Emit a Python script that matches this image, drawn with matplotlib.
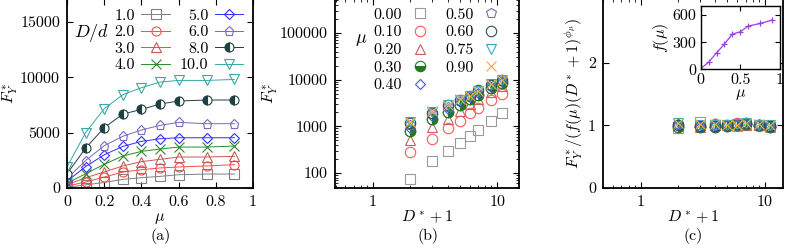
import numpy as np
import matplotlib
matplotlib.use("Agg")
import matplotlib.pyplot as plt
from matplotlib.ticker import NullFormatter

plt.rcParams['font.family'] = 'serif'
plt.rcParams['font.serif'] = ['cmr10', 'DejaVu Serif']
plt.rcParams['mathtext.fontset'] = 'cm'
plt.rcParams['axes.formatter.use_mathtext'] = True
plt.rcParams['font.size'] = 11.5

# friction coefficient values
MU = [0.0, 0.1, 0.2, 0.3, 0.4, 0.5, 0.6, 0.75, 0.9]
MU_LABELS = ['0.00', '0.10', '0.20', '0.30', '0.40', '0.50', '0.60', '0.75', '0.90']
# D/d values
DD = [1.0, 2.0, 3.0, 4.0, 5.0, 6.0, 8.0, 10.0]
DD_LABELS = ['1.0', '2.0', '3.0', '4.0', '5.0', '6.0', '8.0', '10.0']

# F*_Y for each D/d, over MU
F_D1 = [73, 282, 500, 780, 930, 1050, 1200, 1260, 1260]
F_D2 = [184, 535, 990, 1440, 1650, 1810, 1900, 1990, 2110]
F_D3 = [300, 920, 1450, 1990, 2380, 2590, 2800, 2800, 2860]
F_D4 = [440, 1280, 2140, 2890, 3310, 3520, 3700, 3700, 3790]
F_D5 = [610, 1930, 3000, 3760, 4210, 4450, 4540, 4540, 4540]
F_D6 = [850, 2480, 3820, 4670, 5240, 5660, 5930, 5810, 5810]
F_D8 = [1280, 3600, 5450, 6680, 7100, 7590, 7860, 7950, 7950]
F_D10 = [1900, 5000, 7160, 8430, 9060, 9570, 9720, 9720, 9810]
F_ALL = [F_D1, F_D2, F_D3, F_D4, F_D5, F_D6, F_D8, F_D10]

# prefactor f(mu) (inset)
F_MU = [8, 80, 182, 280, 389, 414, 477, 505, 542]

# collapsed values F*_Y/(f(mu)(D*+1)^phi) over D*+1, for each mu
C_MU000 = [0.96, 1.06, 1.00, 1.00, 0.99, 1.02, 1.00, 0.98]
C_MU010 = [1.01, 0.99, 1.02, 0.99, 1.03, 1.03, 0.99, 0.99]
C_MU020 = [1.02, 0.98, 1.03, 1.00, 1.02, 1.01, 1.01, 1.00]
C_MU030 = [0.98, 0.97, 0.98, 0.99, 1.01, 1.02, 1.00, 0.98]
C_MU040 = [1.00, 0.98, 0.99, 1.00, 1.00, 1.02, 1.01, 0.99]
C_MU050 = [1.02, 1.00, 1.00, 1.01, 1.01, 1.03, 1.00, 1.00]
C_MU060 = [1.00, 0.99, 0.99, 1.00, 1.02, 1.04, 1.00, 0.99]
C_MU075 = [1.03, 1.01, 1.01, 1.01, 1.02, 1.03, 1.01, 1.00]
C_MU090 = [1.04, 1.02, 1.02, 1.01, 1.01, 1.03, 1.02, 1.00]
C_ALL = [C_MU000, C_MU010, C_MU020, C_MU030, C_MU040, C_MU050, C_MU060, C_MU075, C_MU090]

XP = [d + 1 for d in DD]

# styles, panel (a)
A_STYLE = [
    dict(color='#808080', marker='s', mfc='none'),
    dict(color='#ff4a4a', marker='o', mfc='none'),
    dict(color='#c85858', marker='^', mfc='none'),
    dict(color='#2a8a2a', marker='x'),
    dict(color='#3030ff', marker='D', mfc='none', ms=5.5),
    dict(color='#7868c0', marker='p', mfc='none'),
    dict(color='#1e4040', marker='o', fillstyle='left', mfc='#1e4040', mfcalt='white'),
    dict(color='#38a8a8', marker='v', mfc='none'),
]
# styles, panels (b) and (c)
B_STYLE = [
    dict(color='#9a9a9a', marker='s', mfc='none'),
    dict(color='#ff5a5a', marker='o', mfc='none'),
    dict(color='#c86060', marker='^', mfc='none'),
    dict(color='#207a20', marker='o', fillstyle='bottom', mfc='#207a20', mfcalt='white'),
    dict(color='#5050ff', marker='D', mfc='none', ms=5.5),
    dict(color='#7868c0', marker='p', mfc='none'),
    dict(color='#2f4f4f', marker='o', mfc='none'),
    dict(color='#38a8b8', marker='v', mfc='none'),
    dict(color='#f0b030', marker='x'),
]

fig = plt.figure(figsize=(7.89, 2.49), dpi=100)

def frame(ax, size=11.5):
    for s in ax.spines.values():
        s.set_linewidth(1.3)
    ax.tick_params(which='both', direction='in', top=True, right=True, labelsize=size)
    ax.tick_params(which='major', length=4.5, pad=5)
    ax.tick_params(which='minor', length=2.5)

def plot_b(ax, x, y, st, **kw):
    st = dict(st)
    ms = st.pop('ms', 7.5)
    ax.plot(x, y, ls='none', ms=ms, mew=0.8, **st, **kw)
    if st.get('fillstyle') == 'bottom':
        # three-quarter filled circle: add the right half too
        st['fillstyle'] = 'right'
        ax.plot(x, y, ls='none', ms=ms, mew=0.8, **st)

# ---- (a)
axa = fig.add_axes([0.0849, 0.245, 0.2358, 0.76])
for i, F in enumerate(F_ALL):
    st = dict(A_STYLE[i])
    ms = st.pop('ms', 6.5)
    axa.plot(MU, F, lw=0.7, ms=ms, mew=0.8, label=DD_LABELS[i], **st)
axa.set_xlim(0, 1)
axa.set_ylim(0, 17100)
axa.set_xticks([0, 0.2, 0.4, 0.6, 0.8, 1])
axa.set_xticklabels(['0', '0.2', '0.4', '0.6', '0.8', '1'])
axa.set_yticks([0, 5000, 10000, 15000])
axa.set_yticklabels(['0', '5000', '10000', '15000'])
axa.set_xlabel(r'$\mu$', labelpad=2)
axa.set_ylabel(r'$F^*_Y$', labelpad=0)
frame(axa)
axa.legend(ncol=2, markerfirst=False, frameon=False, loc='upper right',
           bbox_to_anchor=(1.0, 1.0), fontsize=11.5, handlelength=1.8,
           handletextpad=0.4, columnspacing=0.6, labelspacing=0.15, borderaxespad=0.2)
axa.text(0.04, 0.82, r'$D/d$', transform=axa.transAxes, fontsize=13, va='center')
fig.text(0.203, 0.052, '(a)', ha='center', va='center', fontsize=11.5)

# ---- (b)
axb = fig.add_axes([0.4246, 0.245, 0.2332, 0.76])
for i, mu in enumerate(MU):
    F = [row[i] for row in F_ALL]
    plot_b(axb, XP, F, B_STYLE[i], label=MU_LABELS[i])
axb.set_xscale('log')
axb.set_yscale('log')
axb.set_xlim(0.494, 15.0)
axb.set_ylim(47.7, 540000)
axb.set_xticks([1, 10])
axb.set_xticklabels(['1', '10'])
axb.set_yticks([100, 1000, 10000, 100000])
axb.set_yticklabels(['100', '1000', '10000', '100000'])
axb.xaxis.set_minor_formatter(NullFormatter())
axb.yaxis.set_minor_formatter(NullFormatter())
axb.set_xlabel(r'$D^*+1$', labelpad=0)
axb.set_ylabel(r'$F^*_Y$', labelpad=0)
frame(axb)
axb.legend(ncol=2, markerfirst=False, frameon=False, loc='upper right',
           bbox_to_anchor=(0.94, 1.0), fontsize=11.5, handlelength=1.0,
           handletextpad=0.6, columnspacing=1.1, labelspacing=0.22, borderaxespad=0.15)
axb.text(0.11, 0.78, r'$\mu$', transform=axb.transAxes, fontsize=13, va='center')
fig.text(0.543, 0.052, '(b)', ha='center', va='center', fontsize=11.5)

# ---- (c)
axc = fig.add_axes([0.7643, 0.245, 0.2281, 0.76])
for i, mu in enumerate(MU):
    plot_b(axc, XP, C_ALL[i], B_STYLE[i])
axc.set_xscale('log')
axc.set_xlim(0.497, 14.0)
axc.set_ylim(0, 3.02)
axc.set_xticks([1, 10])
axc.set_xticklabels(['1', '10'])
axc.xaxis.set_minor_formatter(NullFormatter())
axc.set_yticks([0, 1, 2])
axc.set_yticklabels(['0', '1', '2'])
axc.set_xlabel(r'$D^*+1$', labelpad=0)
axc.set_ylabel(r'$F^*_Y/(f(\mu)(D^*+1)^{\phi_\mu})$', labelpad=2)
frame(axc)
fig.text(0.878, 0.052, '(c)', ha='center', va='center', fontsize=11.5)

# inset
axi = fig.add_axes([0.888, 0.7209, 0.1006, 0.2561])
axi.plot(MU, F_MU, color='#a040e0', lw=0.9, marker='+', ms=5, mew=0.9)
axi.set_xlim(0, 1)
axi.set_ylim(0, 700)
axi.set_xticks([0, 0.5, 1])
axi.set_xticklabels(['0', '0.5', '1'])
axi.set_yticks([0, 300, 600])
axi.set_yticklabels(['0', '300', '600'])
axi.set_xlabel(r'$\mu$', labelpad=0)
axi.set_ylabel(r'$f(\mu)$', labelpad=1)
frame(axi)
axi.tick_params(which='major', length=3.5, pad=3)
for s in axi.spines.values():
    s.set_linewidth(1.0)

fig.savefig('out.png', dpi=100)
